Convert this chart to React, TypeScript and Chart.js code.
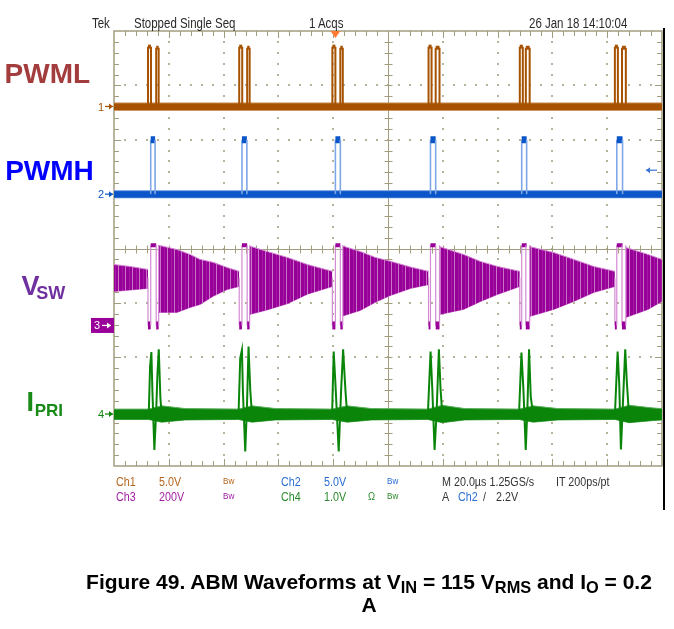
import React, { useEffect, useRef } from 'react';
import { Chart, registerables } from 'chart.js';

Chart.register(...registerables);

// ---------------- DATA (time in µs, 20 µs/div) ----------------
const X_MIN = 0;
const X_MAX = 200;

// Ch1 PWML (V): pulse pairs per switching event
const pwmlAStart = [12.4, 45.7, 79.7, 114.8, 148.1, 182.8];
const pwmlAEnd = [13.5, 46.8, 80.8, 115.9, 149.2, 183.9];
const pwmlBStart = [15.4, 48.6, 82.6, 117.4, 150.3, 185.4];
const pwmlBEnd = [16.3, 49.5, 83.5, 118.8, 151.7, 186.8];
const PWML_HIGH_A = 5.5;
const PWML_HIGH_B = 5.4;
const pwmlNoise = [-0.34, 0.32];

// Ch2 PWMH (V)
const pwmhRise = [13.4, 46.7, 80.8, 115.5, 148.8, 183.5];
const pwmhFall = [15.0, 48.5, 82.6, 117.4, 150.6, 185.6];
const PWMH_HIGH = 5.0;
const pwmhNoise = [-0.34, 0.32];

// Ch3 VSW (V): ringing envelope (null = switching event)
const vswT = [0, 5.9, 12.4, 14, 16.3, 23.0, 27.8, 31.4, 36.2, 41.3, 45.7, 47.5, 49.5, 55.9, 63.3, 70.6, 79.7, 81.5, 83.5, 89.9, 95.4, 100.9, 108.2, 114.8, 116.5, 118.8, 127.6, 133.8, 140.0, 148.1, 149.5, 151.7, 160.5, 167.8, 175.1, 182.8, 185, 186.8, 194.9, 200];
const vswUpper = [224, 217, 206, null, 295, 279, 261, 243, 232, 213, 199, null, 292, 272, 250, 224, 199, null, 292, 272, 250, 236, 215, 199, null, 290, 261, 235, 217, 199, null, 290, 268, 243, 217, 199, null, 287, 261, 243];
const vswLower = [125, 130, 136, null, 48, 48, 66, 77, 107, 132, 143, null, 40, 57, 80, 115, 143, null, 35, 55, 85, 110, 136, 150, null, 40, 59, 88, 114, 143, null, 33, 59, 88, 121, 143, null, 29, 59, 88];
const VSW_HIGH = 295;
const VSW_LOW = 0;
const VSW_MID = 175;

// Ch4 IPRI (V on 1 V/div): spikes at each event
const ipriEventT = [
  [12.69, 13.16, 13.64, 14.0, 14.73, 15.36, 15.83, 16.34, 16.93, 17.37],
  [45.45, 46.07, 46.69, 47.06, 47.9, 48.52, 49.1, 49.73, 50.35],
  [79.6, 80.18, 80.8, 82.01, 82.89, 83.62, 84.46, 85.08],
  [114.55, 115.54, 116.16, 117.0, 117.73, 118.57, 119.2, 119.82],
  [147.82, 148.7, 149.43, 150.27, 150.89, 151.48, 152.1, 152.94],
  [182.82, 183.8, 184.39, 185.01, 185.74, 186.58, 187.2, 187.93],
];
const ipriEventV = [
  [0, 0.87, 1.14, 0.45, -0.66, 0, 0.7, 1.19, 0.3, 0],
  [0, 1.03, 1.18, 0.4, -0.69, 0.13, 1.24, 0.44, 0],
  [0, 1.15, 0.57, -0.69, 0.44, 1.19, 0.44, 0],
  [0, 1.15, 0.47, -0.66, 0.02, 1.19, 0.44, 0],
  [0, 1.13, 0.44, -0.66, 0.13, 1.19, 0.32, 0],
  [0, 1.15, 0.56, -0.65, 0.2, 1.19, 0.56, 0],
];
const ipriBandT = [0, 12.6, 17.4, 26, 45.4, 50.4, 59, 79.6, 85.1, 94, 114.5, 119.8, 128, 147.8, 153, 162, 182.8, 188, 197, 200];
const ipriBandHi = [0.09, 0.09, 0.15, 0.1, 0.09, 0.15, 0.1, 0.09, 0.15, 0.1, 0.09, 0.16, 0.1, 0.09, 0.15, 0.1, 0.09, 0.16, 0.11, 0.1];
const ipriBandLo = [-0.1, -0.1, -0.15, -0.11, -0.1, -0.15, -0.11, -0.1, -0.15, -0.11, -0.1, -0.16, -0.11, -0.1, -0.15, -0.11, -0.1, -0.16, -0.12, -0.11];

// Trigger
const TRIGGER_T = 80.8;
const TRIGGER_LEVEL = 2.2;

// Channel axis ranges (volts/div and ground position on the 8-div screen)
const CH1_MIN = -33.06, CH1_MAX = 6.94; // 5 V/div
const CH2_MIN = -25, CH2_MAX = 15; // 5 V/div
const CH3_MIN = -517, CH3_MAX = 1083; // 200 V/div
const CH4_MIN = -0.956, CH4_MAX = 7.044; // 1 V/div

// ---------------- STYLE ----------------
const C1 = '#a65200', C1L = '#c98a4e';
const C2 = '#0a55c8', C2L = '#7fa6e6';
const C3 = '#990099', C3L = '#d38ad3';
const C4 = '#0a850a', C4L = '#5cae5c';
const GRID = '#a39d80';
const DOT = '#b8b29a';
const FONT = '"Liberation Sans", Arial, Helvetica, sans-serif';

type P = { x: number; y: number | null };

function pwmlData(): P[] {
  const d: P[] = [];
  pwmlAStart.forEach((a0, i) => {
    d.push({ x: a0, y: 0 }, { x: a0, y: PWML_HIGH_A }, { x: pwmlAEnd[i], y: PWML_HIGH_A }, { x: pwmlAEnd[i], y: 0 }, { x: pwmlAEnd[i], y: null });
    d.push({ x: pwmlBStart[i], y: 0 }, { x: pwmlBStart[i], y: PWML_HIGH_B }, { x: pwmlBEnd[i], y: PWML_HIGH_B }, { x: pwmlBEnd[i], y: 0 }, { x: pwmlBEnd[i], y: null });
  });
  return d;
}

function pwmhData(): P[] {
  const d: P[] = [];
  pwmhRise.forEach((r, i) => {
    d.push({ x: r, y: 0 }, { x: r, y: PWMH_HIGH }, { x: pwmhFall[i], y: PWMH_HIGH }, { x: pwmhFall[i], y: 0 }, { x: pwmhFall[i], y: null });
  });
  return d;
}

function vswEventData(): P[] {
  const d: P[] = [];
  pwmlAStart.forEach((a0, i) => {
    d.push(
      { x: a0, y: VSW_MID }, { x: a0, y: VSW_LOW }, { x: pwmhRise[i], y: VSW_LOW },
      { x: pwmhRise[i], y: VSW_HIGH }, { x: pwmhFall[i], y: VSW_HIGH }, { x: pwmlBStart[i], y: VSW_HIGH },
      { x: pwmlBStart[i], y: VSW_LOW }, { x: pwmlBEnd[i], y: VSW_LOW }, { x: pwmlBEnd[i], y: VSW_HIGH },
      { x: pwmlBEnd[i], y: null }
    );
  });
  return d;
}

function ipriData(): P[] {
  const d: P[] = [];
  ipriEventT.forEach((ts, i) => {
    ts.forEach((t, k) => d.push({ x: t, y: ipriEventV[i][k] }));
    d.push({ x: ts[ts.length - 1], y: null });
  });
  return d;
}

const zip = (ts: number[], vs: (number | null)[]): P[] => ts.map((t, i) => ({ x: t, y: vs[i] }));
const flat = (v: number): P[] => [{ x: X_MIN, y: v }, { x: X_MAX, y: v }];

const isVert = (c: any) => c.p0.parsed.x === c.p1.parsed.x;

function pulseSeg(dark: string, light: string, topW: number, lowW: number, edgeW: number) {
  return {
    borderColor: (c: any) => (isVert(c) ? light : dark),
    borderWidth: (c: any) => (isVert(c) ? edgeW : c.p0.parsed.y === 0 ? lowW : topW),
  };
}

function band(yAxisID: string, upper: P[], lower: P[], fillColor: any, edge: string) {
  return [
    { data: upper, yAxisID, xAxisID: 'x', borderColor: edge, borderWidth: 1, backgroundColor: fillColor, fill: '+1', order: 5, spanGaps: false, pointRadius: 0 },
    { data: lower, yAxisID, xAxisID: 'x', borderColor: edge, borderWidth: 1, backgroundColor: fillColor, fill: false, order: 5, spanGaps: false, pointRadius: 0 },
  ];
}

const gridPlugin = {
  id: 'scopeGrid',
  beforeDatasetsDraw(chart: any) {
    const { ctx, chartArea: a, scales } = chart;
    const xs = scales.x, ys = scales.yDiv;
    ctx.save();
    ctx.fillStyle = DOT;
    for (let i = 1; i < 10; i++) {
      if (i === 5) continue;
      const px = Math.round(xs.getPixelForValue(i * 20));
      for (let k = 1; k < 40; k++) {
        const py = Math.round(ys.getPixelForValue(-4 + k * 0.2));
        ctx.fillRect(px - 1, py - 1, 2, 2);
      }
    }
    for (let j = 1; j < 8; j++) {
      if (j === 4) continue;
      const py = Math.round(ys.getPixelForValue(-4 + j));
      for (let k = 1; k < 50; k++) {
        const px = Math.round(xs.getPixelForValue(k * 4));
        ctx.fillRect(px - 1, py - 1, 2, 2);
      }
    }
    ctx.strokeStyle = GRID;
    ctx.lineWidth = 1.5;
    ctx.strokeRect(a.left, a.top, a.right - a.left, a.bottom - a.top);
    const cx = Math.round(xs.getPixelForValue(100)) + 0.5;
    const cy = Math.round(ys.getPixelForValue(0)) + 0.5;
    ctx.lineWidth = 1;
    ctx.beginPath();
    ctx.moveTo(a.left, cy); ctx.lineTo(a.right, cy);
    ctx.moveTo(cx, a.top); ctx.lineTo(cx, a.bottom);
    for (let k = 1; k < 50; k++) {
      const px = Math.round(xs.getPixelForValue(k * 4)) + 0.5;
      const L = k % 5 === 0 ? 7 : 5;
      ctx.moveTo(px, a.top); ctx.lineTo(px, a.top + L);
      ctx.moveTo(px, a.bottom); ctx.lineTo(px, a.bottom - L);
      ctx.moveTo(px, cy - 4); ctx.lineTo(px, cy + 4);
    }
    for (let k = 1; k < 40; k++) {
      const py = Math.round(ys.getPixelForValue(-4 + k * 0.2)) + 0.5;
      const L = k % 5 === 0 ? 7 : 5;
      ctx.moveTo(a.left, py); ctx.lineTo(a.left + L, py);
      ctx.moveTo(a.right, py); ctx.lineTo(a.right - L, py);
      ctx.moveTo(cx - 4, py); ctx.lineTo(cx + 4, py);
    }
    ctx.stroke();
    ctx.restore();
  },
};

function arrow(ctx: CanvasRenderingContext2D, x0: number, x1: number, y: number, color: string, dir: 1 | -1) {
  ctx.strokeStyle = color;
  ctx.fillStyle = color;
  ctx.lineWidth = 1.2;
  ctx.beginPath();
  ctx.moveTo(x0, y); ctx.lineTo(x1, y);
  ctx.stroke();
  const tip = dir === 1 ? x1 : x0;
  ctx.beginPath();
  ctx.moveTo(tip, y);
  ctx.lineTo(tip - dir * 4, y - 3);
  ctx.lineTo(tip - dir * 4, y + 3);
  ctx.closePath();
  ctx.fill();
}

const markerPlugin = {
  id: 'scopeMarkers',
  afterDraw(chart: any) {
    const { ctx, chartArea: a, scales } = chart;
    ctx.save();
    ctx.font = `11px ${FONT}`;
    ctx.textBaseline = 'middle';
    ctx.textAlign = 'left';
    const marks: [string, string, number][] = [
      ['1', C1, scales.y1.getPixelForValue(0)],
      ['2', C2, scales.y2.getPixelForValue(0)],
      ['4', C4, scales.y4.getPixelForValue(0)],
    ];
    marks.forEach(([t, c, y]) => {
      ctx.fillStyle = c;
      ctx.fillText(t, a.left - 16, y + 1);
      arrow(ctx, a.left - 9, a.left - 1, y, c, 1);
    });
    const y3 = scales.y3.getPixelForValue(0);
    ctx.fillStyle = C3;
    ctx.fillRect(a.left - 23, y3 - 7.5, 23, 15);
    ctx.fillStyle = '#fff';
    ctx.fillText('3', a.left - 20, y3 + 1);
    arrow(ctx, a.left - 12, a.left - 3, y3, '#fff', 1);
    const tx = scales.x.getPixelForValue(TRIGGER_T);
    ctx.fillStyle = '#ff7a33';
    ctx.beginPath();
    ctx.moveTo(tx - 5, a.top);
    ctx.lineTo(tx + 5, a.top);
    ctx.lineTo(tx, a.top + 7);
    ctx.closePath();
    ctx.fill();
    const ty = scales.y2.getPixelForValue(TRIGGER_LEVEL);
    arrow(ctx, a.right - 16, a.right - 5, ty, '#3a74d6', -1);
    ctx.fillStyle = '#000';
    ctx.fillRect(a.right + 1, a.top - 3, 2, 482);
    ctx.restore();
  },
};

function Txt(p: { x: number; y: number; size: number; color: string; bold?: boolean; sx?: number; children: any }) {
  return (
    <div
      style={{
        position: 'absolute', left: p.x, top: p.y, fontSize: p.size, lineHeight: 1, color: p.color,
        fontFamily: FONT, fontWeight: p.bold ? 700 : 400, whiteSpace: 'nowrap',
        transform: p.sx ? `scaleX(${p.sx})` : undefined, transformOrigin: 'left top',
      }}
    >
      {p.children}
    </div>
  );
}

const sub = (t: string) => (
  <span style={{ fontSize: '0.78em', position: 'relative', top: '0.22em' }}>{t}</span>
);

export default function App() {
  const ref = useRef<HTMLCanvasElement>(null);
  useEffect(() => {
    const canvas = ref.current!;
    const ctx = canvas.getContext('2d')!;
    const pc = document.createElement('canvas');
    pc.width = 7; pc.height = 4;
    const g = pc.getContext('2d')!;
    g.fillStyle = '#960096'; g.fillRect(0, 0, 7, 4);
    g.fillStyle = '#a818a8'; g.fillRect(3, 0, 1, 4);
    g.fillStyle = '#cc74cc'; g.fillRect(6, 0, 1, 4);
    const vswPattern = ctx.createPattern(pc, 'repeat');

    const datasets: any[] = [
      { data: pwmlData(), yAxisID: 'y1', xAxisID: 'x', borderColor: C1, order: 1, spanGaps: false, pointRadius: 0, segment: pulseSeg(C1, C1, 4, 2, 2) },
      { data: pwmhData(), yAxisID: 'y2', xAxisID: 'x', borderColor: C2, order: 1, spanGaps: false, pointRadius: 0, segment: pulseSeg(C2, C2L, 7, 2, 1.6) },
      { data: vswEventData(), yAxisID: 'y3', xAxisID: 'x', borderColor: C3, order: 1, spanGaps: false, pointRadius: 0, segment: pulseSeg(C3, C3L, 4, 8, 1.2) },
      { data: ipriData(), yAxisID: 'y4', xAxisID: 'x', borderColor: C4, borderWidth: 2, order: 1, spanGaps: false, pointRadius: 0 },
      ...band('y1', flat(pwmlNoise[1]), flat(pwmlNoise[0]), C1, C1L),
      ...band('y2', flat(pwmhNoise[1]), flat(pwmhNoise[0]), C2, C2L),
      ...band('y3', zip(vswT, vswUpper), zip(vswT, vswLower), vswPattern, C3L),
      ...band('y4', zip(ipriBandT, ipriBandHi), zip(ipriBandT, ipriBandLo), C4, C4L),
    ];

    const hidden = (min: number, max: number) => ({ type: 'linear', display: false, min, max });
    const chart = new Chart(ctx, {
      type: 'line',
      data: { datasets },
      options: {
        animation: false,
        responsive: false,
        devicePixelRatio: 1,
        events: [],
        layout: { padding: { left: 114, right: 12, top: 31, bottom: 163 } },
        elements: { point: { radius: 0 }, line: { tension: 0, borderCapStyle: 'butt', borderJoinStyle: 'miter' } },
        plugins: { legend: { display: false }, tooltip: { enabled: false }, title: { display: false } },
        scales: {
          x: hidden(X_MIN, X_MAX),
          yDiv: hidden(-4, 4),
          y1: hidden(CH1_MIN, CH1_MAX),
          y2: hidden(CH2_MIN, CH2_MAX),
          y3: hidden(CH3_MIN, CH3_MAX),
          y4: hidden(CH4_MIN, CH4_MAX),
        } as any,
      } as any,
      plugins: [gridPlugin, markerPlugin],
    });
    return () => chart.destroy();
  }, []);

  const top = 16;
  const r1 = 476, r2 = 490.5;
  const s = 12.5, sx = 0.86;
  return (
    <div style={{ position: 'absolute', left: 0, top: 0, width: 674, height: 629, background: '#fff', overflow: 'hidden' }}>
      <canvas ref={ref} width={674} height={629} style={{ position: 'absolute', left: 0, top: 0, width: 674, height: 629 }} />
      <Txt x={4.6} y={60.3} size={28} color="#a33c3c" bold>PWML</Txt>
      <Txt x={5.2} y={157} size={28} color="#0000ff" bold>PWMH</Txt>
      <Txt x={21.5} y={273} size={27} color="#7030a0" bold>V</Txt>
      <Txt x={36.3} y={283.8} size={18} color="#7030a0" bold>SW</Txt>
      <Txt x={26.6} y={388.8} size={27} color="#178a17" bold>I</Txt>
      <Txt x={34.7} y={401.6} size={17} color="#178a17" bold>PRI</Txt>
      <Txt x={92} y={top} size={14} color="#2a2a2a" sx={0.82}>Tek</Txt>
      <Txt x={134} y={top} size={14} color="#2a2a2a" sx={0.82}>Stopped  Single Seq</Txt>
      <Txt x={309} y={top} size={14} color="#2a2a2a" sx={0.82}>1 Acqs</Txt>
      <Txt x={529} y={top} size={14} color="#2a2a2a" sx={0.82}>26 Jan 18 14:10:04</Txt>
      <Txt x={115.5} y={r1} size={s} color="#b5651d" sx={sx}>Ch1</Txt>
      <Txt x={159} y={r1} size={s} color="#b5651d" sx={sx}>5.0V</Txt>
      <Txt x={222.7} y={r1} size={9.5} color="#b5651d" sx={sx}>Bw</Txt>
      <Txt x={280.5} y={r1} size={s} color="#2a6fd1" sx={sx}>Ch2</Txt>
      <Txt x={324} y={r1} size={s} color="#2a6fd1" sx={sx}>5.0V</Txt>
      <Txt x={386.7} y={r1} size={9.5} color="#2a6fd1" sx={sx}>Bw</Txt>
      <Txt x={442} y={r1} size={s} color="#333" sx={sx}>M 20.0µs 1.25GS/s</Txt>
      <Txt x={556} y={r1} size={s} color="#333" sx={sx}>IT 200ps/pt</Txt>
      <Txt x={115.5} y={r2} size={s} color="#a21fa2" sx={sx}>Ch3</Txt>
      <Txt x={159} y={r2} size={s} color="#a21fa2" sx={sx}>200V</Txt>
      <Txt x={222.7} y={r2} size={9.5} color="#a21fa2" sx={sx}>Bw</Txt>
      <Txt x={280.5} y={r2} size={s} color="#2b8a2b" sx={sx}>Ch4</Txt>
      <Txt x={324} y={r2} size={s} color="#2b8a2b" sx={sx}>1.0V</Txt>
      <Txt x={367.5} y={r2} size={11} color="#2b8a2b" sx={sx}>Ω</Txt>
      <Txt x={386.7} y={r2} size={9.5} color="#2b8a2b" sx={sx}>Bw</Txt>
      <Txt x={442} y={r2} size={s} color="#333" sx={sx}>A</Txt>
      <Txt x={458} y={r2} size={s} color="#2a6fd1" sx={sx}>Ch2</Txt>
      <Txt x={483} y={r2} size={s} color="#333" sx={sx}>/</Txt>
      <Txt x={496} y={r2} size={s} color="#333" sx={sx}>2.2V</Txt>
      <div style={{ position: 'absolute', left: 0, top: 571, width: 738, textAlign: 'center', fontFamily: FONT, fontWeight: 700, fontSize: 21, lineHeight: 1, whiteSpace: 'nowrap', color: '#000' }}>
        Figure 49. ABM Waveforms at V{sub('IN')} = 115 V{sub('RMS')} and I{sub('O')} = 0.2
      </div>
      <div style={{ position: 'absolute', left: 0, top: 594, width: 738, textAlign: 'center', fontFamily: FONT, fontWeight: 700, fontSize: 21, lineHeight: 1, whiteSpace: 'nowrap', color: '#000' }}>
        A
      </div>
    </div>
  );
}
